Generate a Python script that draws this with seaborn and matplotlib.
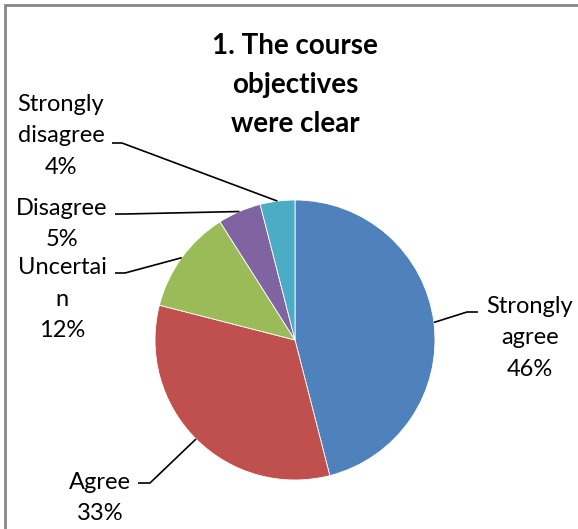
import numpy as np
import matplotlib
matplotlib.use("Agg")
import matplotlib.pyplot as plt
import seaborn as sns

# data
categories = ["Strongly agree", "Agree", "Uncertain", "Disagree", "Strongly disagree"]
percents = [46, 33, 12, 5, 4]
label_texts = ["Strongly\nagree\n46%", "Agree\n33%", "Uncertai\nn\n12%",
               "Disagree\n5%", "Strongly\ndisagree\n4%"]
title = "1. The course\nobjectives\nwere clear"

# layout (image pixel coords, y down)
W, H = 578, 529
CX, CY, R = 295, 340, 140
label_pos = [(530, 338), (100, 498), (62, 299), (62, 224), (61, 136)]
elbows = [[(478, 312), (467, 312)],
          [(138, 483), (150, 483)],
          [(115, 273), (125, 273)],
          [(115, 214), (125, 214)],
          [(112, 143), (122, 143)]]

sns.set_theme(style="white")
plt.rcParams['font.family'] = ['Lato', 'DejaVu Sans']
colors = ["#4F81BD", "#C0504D", "#9BBB59", "#8064A2", "#4BACC6"]

fig = plt.figure(figsize=(W / 100, H / 100), dpi=100)
ax = fig.add_axes([0, 0, 1, 1])
ax.axis("off")

def fy(y):
    return H - y

wedges, _ = ax.pie(percents, colors=colors, startangle=90, counterclock=False,
                   center=(CX, fy(CY)), radius=R,
                   wedgeprops=dict(edgecolor="white", linewidth=0.6))
ax.set_xlim(0, W)
ax.set_ylim(0, H)

for i, w in enumerate(wedges):
    ang = np.deg2rad((w.theta1 + w.theta2) / 2)
    ax_, ay_ = CX + R * np.cos(ang), fy(CY) + R * np.sin(ang)
    xs = [p[0] for p in elbows[i]] + [ax_]
    ys = [fy(p[1]) for p in elbows[i]] + [ay_]
    ax.plot(xs, ys, color="black", lw=1.2, solid_capstyle="butt")
    ax.text(label_pos[i][0], fy(label_pos[i][1]), label_texts[i], ha="center",
            va="center", fontsize=17, linespacing=1.6, color="black")

ax.text(CX, fy(85), title, ha="center", va="center", fontsize=20,
        fontweight="bold", linespacing=1.62, color="black")

# chart frame
ax.plot([5, 5, W + 5], [-5, fy(5), fy(5)], color="#868686", lw=2, solid_joinstyle="miter")

fig.savefig("out.png", dpi=100)
